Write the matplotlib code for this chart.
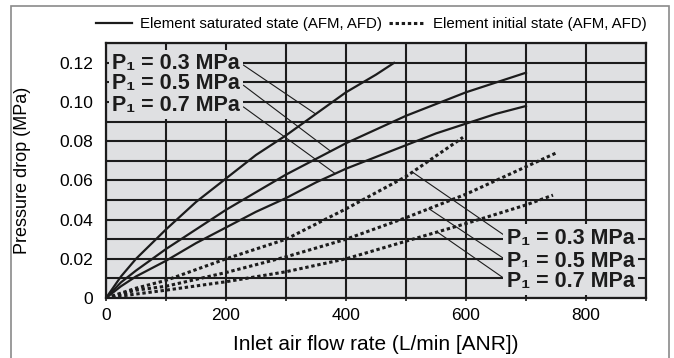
import matplotlib
matplotlib.use("Agg")
import matplotlib.pyplot as plt
from matplotlib.patches import Rectangle

plt.rcParams['font.family'] = ['Liberation Sans', 'DejaVu Sans']

# saturated element (solid)
sat_x_03 = [0, 25, 50, 100, 150, 200, 250, 300, 350, 400, 450, 480]
sat_y_03 = [0, 0.011, 0.020, 0.035, 0.049, 0.061, 0.073, 0.083, 0.094, 0.105, 0.114, 0.120]
sat_x = [0, 25, 50, 100, 150, 200, 250, 300, 350, 400, 450, 500, 550, 600, 650, 700]
sat_y_05 = [0, 0.008, 0.014, 0.025, 0.035, 0.045, 0.054, 0.063, 0.071, 0.079, 0.086, 0.093, 0.099, 0.105, 0.110, 0.115]
sat_y_07 = [0, 0.006, 0.011, 0.019, 0.028, 0.036, 0.044, 0.051, 0.059, 0.066, 0.072, 0.078, 0.084, 0.089, 0.094, 0.098]

# initial element (dotted)
ini_x_03 = [0, 50, 100, 200, 300, 400, 500, 595]
ini_y_03 = [0, 0.005, 0.009, 0.020, 0.030, 0.0455, 0.062, 0.082]
ini_x_05 = [0, 50, 100, 200, 300, 400, 500, 600, 700, 750]
ini_y_05 = [0, 0.004, 0.006, 0.013, 0.021, 0.030, 0.041, 0.053, 0.067, 0.074]
ini_x_07 = [0, 50, 100, 200, 300, 400, 500, 600, 700, 745]
ini_y_07 = [0, 0.002, 0.004, 0.0083, 0.0134, 0.020, 0.029, 0.038, 0.0475, 0.0525]

pressures = ['0.3', '0.5', '0.7']
upper_text_y = [0.1168, 0.1066, 0.0955]
upper_point_x = [349, 374, 382]
upper_point_y = [0.094, 0.075, 0.0635]
lower_text_y = [0.0278, 0.0158, 0.0057]
lower_point_x = [510, 538, 552]
lower_point_y = [0.0644, 0.0456, 0.0337]

x_ticks = [0, 200, 400, 600, 800]
y_ticks = [0, 0.02, 0.04, 0.06, 0.08, 0.10, 0.12]
y_tick_labels = ['0', '0.02', '0.04', '0.06', '0.08', '0.10', '0.12']

bg = '#dfe0e2'
ink = '#1c1c1c'

fig = plt.figure(figsize=(6.74, 3.58), dpi=100)
ax = fig.add_axes([106 / 674, 60 / 358, 540 / 674, 254.7 / 358])
ax.set_facecolor(bg)

ax.plot(sat_x_03, sat_y_03, color=ink, lw=1.6, zorder=3, label='Element saturated state (AFM, AFD)')
ax.plot(sat_x, sat_y_05, color=ink, lw=1.6, zorder=3)
ax.plot(sat_x, sat_y_07, color=ink, lw=1.6, zorder=3)
dots = (0, (1.1, 0.9))
ax.plot(ini_x_03, ini_y_03, color=ink, lw=2.2, ls=dots, zorder=3, label='Element initial state (AFM, AFD)')
ax.plot(ini_x_05, ini_y_05, color=ink, lw=2.2, ls=dots, zorder=3)
ax.plot(ini_x_07, ini_y_07, color=ink, lw=2.2, ls=dots, zorder=3)

ax.set_xlim(0, 900)
ax.set_ylim(0, 0.13)
ax.set_xticks(range(0, 901, 100), minor=True)
ax.set_yticks([i / 100 for i in range(14)], minor=True)
ax.set_xticks(x_ticks)
ax.set_yticks(y_ticks)
ax.set_yticklabels(y_tick_labels)
ax.grid(True, which='both', color=ink, lw=1.5, zorder=1)
ax.set_axisbelow(True)
for s in ax.spines.values():
    s.set_color(ink)
    s.set_linewidth(1.6)
ax.tick_params(axis='x', which='both', length=2.5, width=1.2, color=ink, pad=5, labelsize=12.5)
ax.tick_params(axis='y', which='both', length=0, pad=9, labelsize=12.5)

ax.set_xlabel('Inlet air flow rate (L/min [ANR])', fontsize=15)
ax.set_ylabel('Pressure drop (MPa)', fontsize=13)
ax.xaxis.set_label_coords(0.5, -0.145)
ax.yaxis.set_label_coords(-0.138, 0.5)

box = dict(facecolor=bg, edgecolor='none', pad=2.5)
leader = dict(arrowstyle='-', lw=0.8, color=ink, shrinkA=0, shrinkB=0)
for p, ty, px, py in zip(pressures, upper_text_y, upper_point_x, upper_point_y):
    ax.annotate('P\u2081 = %s MPa' % p, xy=(px, py), xytext=(10, ty),
                ha='left', va='baseline', fontsize=15.5, fontweight='bold', color=ink,
                bbox=box, zorder=4, arrowprops=dict(leader, relpos=(1, 0.55)))
for p, ty, px, py in zip(pressures, lower_text_y, lower_point_x, lower_point_y):
    ax.annotate('P\u2081 = %s MPa' % p, xy=(px, py), xytext=(668, ty),
                ha='left', va='baseline', fontsize=15.5, fontweight='bold', color=ink,
                bbox=box, zorder=4, arrowprops=dict(leader, relpos=(0, 0.55)))

handles, labels = ax.get_legend_handles_labels()
fig.legend(handles, labels, loc='center', bbox_to_anchor=(0.551, 0.932), ncol=2, frameon=False,
           prop=dict(size=10.8),
           handlelength=2.4, handletextpad=0.5, columnspacing=0.5)

fig.patches.append(Rectangle((11 / 674, -0.05), 658 / 674, 1.05 - 6 / 358, transform=fig.transFigure,
                             fill=False, edgecolor='#8a8a8a', lw=1.2))

fig.savefig('out.png', dpi=100)
